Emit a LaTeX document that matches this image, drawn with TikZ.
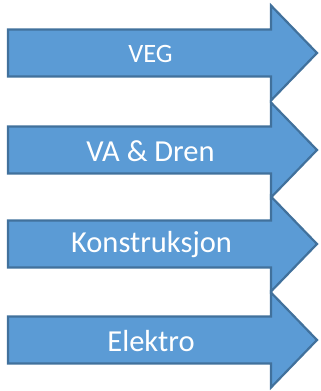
\documentclass[tikz,border=0pt]{standalone}
\usepackage{fontspec}
\setmainfont{Carlito}
\definecolor{arrfill}{HTML}{5B9BD5}
\definecolor{arrline}{HTML}{41719C}
\begin{document}
\begin{tikzpicture}[x=1pt,y=-1pt,
  bigarrow/.style={fill=arrfill,draw=arrline,line width=2.2pt,line join=miter},
  lbl/.style={text=white,inner sep=0pt,anchor=center}]
\useasboundingbox (0,0) rectangle (321,391);
\foreach \yc/\nm in {53/a1,150/a2,244/a3,340/a4}{
  \draw[bigarrow] (8,\yc-23.5) -- (271,\yc-23.5) -- (271,\yc-47.5) -- (317,\yc) -- (271,\yc+47.5) -- (271,\yc+23.5) -- (8,\yc+23.5) -- cycle;
}
\node[lbl,font=\fontsize{26.5}{30}\selectfont] (veg) at (150.5,54) {VEG};
\node[lbl,font=\fontsize{30.5}{34}\selectfont] (va) at (150.5,151) {VA \& Dren};
\node[lbl,font=\fontsize{30.5}{34}\selectfont] (kon) at (151.5,245) {Konstruksjon};
\node[lbl,font=\fontsize{30.5}{34}\selectfont] (el) at (151,341) {Elektro};
\end{tikzpicture}
\end{document}
